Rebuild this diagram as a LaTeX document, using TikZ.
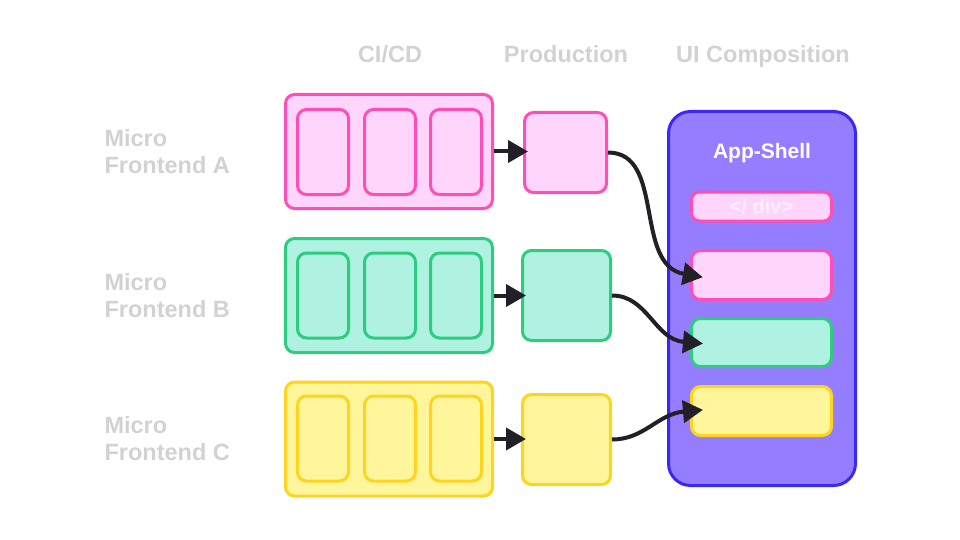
\documentclass[tikz,border=0pt]{standalone}
\usepackage{fontspec}
\setmainfont{Liberation Sans}
\usetikzlibrary{arrows.meta}
\definecolor{pinkfill}{HTML}{FFD5FB}
\definecolor{pinkline}{HTML}{FF4FB5}
\definecolor{greenfill}{HTML}{B0F2E2}
\definecolor{greenline}{HTML}{2ECC7F}
\definecolor{yellowfill}{HTML}{FFF59A}
\definecolor{yellowline}{HTML}{FFD41E}
\definecolor{shellfill}{HTML}{957DFF}
\definecolor{shellline}{HTML}{3C28F5}
\definecolor{lblgray}{HTML}{D2D2D2}
\definecolor{divtext}{HTML}{FFF0FD}
\definecolor{arrowc}{HTML}{231F26}

\begin{document}
\begin{tikzpicture}[x=1pt,y=-1pt,
  box/.style={draw, rounded corners=9pt, line width=3pt, inner sep=0pt},
  pinkbox/.style={box, draw=pinkline, fill=pinkfill},
  greenbox/.style={box, draw=greenline, fill=greenfill},
  yellowbox/.style={box, draw=yellowline, fill=yellowfill},
  outer/.style={minimum width=207pt, minimum height=114pt},
  inner/.style={minimum width=51pt, minimum height=85pt},
  slot/.style={minimum width=140pt, minimum height=49pt},
  lbl/.style={text=lblgray, font=\fontsize{23.5}{27}\selectfont\bfseries},
  conn/.style={draw=arrowc, line width=4pt, -{Triangle[length=20pt,width=22pt]}}]
\useasboundingbox (0,0) rectangle (960,540);

% column headers
\node[lbl, anchor=base] (hcicd) at (390,63) {CI/CD};
\node[lbl, anchor=base] (hprod) at (566,63) {Production};
\node[lbl, anchor=base] (hui) at (763,63) {UI Composition};

% row labels
\node[lbl, align=left, anchor=west] (mfA) at (101,152) {Micro\\Frontend A};
\node[lbl, align=left, anchor=west] (mfB) at (101,296) {Micro\\Frontend B};
\node[lbl, align=left, anchor=west] (mfC) at (101,439) {Micro\\Frontend C};

% CI/CD
\node[pinkbox, outer] (ciA) at (389,151.5) {};
\node[pinkbox, inner] (ciA1) at (323,152) {};
\node[pinkbox, inner] (ciA2) at (390,152) {};
\node[pinkbox, inner] (ciA3) at (456,152) {};
\node[greenbox, outer] (ciB) at (389,295.5) {};
\node[greenbox, inner] (ciB1) at (323,295.5) {};
\node[greenbox, inner] (ciB2) at (390,295.5) {};
\node[greenbox, inner] (ciB3) at (456,295.5) {};
\node[yellowbox, outer] (ciC) at (389,439) {};
\node[yellowbox, inner] (ciC1) at (323,438.5) {};
\node[yellowbox, inner] (ciC2) at (390,438.5) {};
\node[yellowbox, inner] (ciC3) at (456,438.5) {};

% production
\node[pinkbox, minimum width=82pt, minimum height=80pt] (prodA) at (565.5,152.5) {};
\node[greenbox, minimum width=88pt, minimum height=90pt] (prodB) at (566.5,295.5) {};
\node[yellowbox, minimum width=88pt, minimum height=90pt] (prodC) at (566.5,439.5) {};

% app shell
\node[box, draw=shellline, fill=shellfill, rounded corners=22pt, minimum width=187pt, minimum height=374pt] (shell) at (762,298.5) {};
\node[text=white, font=\fontsize{21}{25}\selectfont\bfseries] (title) at (762,153) {App-Shell};
\node[pinkbox, rounded corners=8pt, minimum width=140pt, minimum height=29pt, text=divtext, font=\fontsize{20}{24}\selectfont\bfseries] (div) at (761.5,206.5) {</ div>};
\node[pinkbox, slot] (slotA) at (761.5,275) {};
\node[greenbox, slot, minimum height=48pt] (slotB) at (761.5,342.5) {};
\node[yellowbox, slot] (slotC) at (761.5,411) {};

% connectors
\draw[conn, shorten >=-5pt] (ciA.east) -- (ciA.east -| prodA.west);
\draw[conn, shorten >=-5pt] (ciB.east) -- (ciB.east -| prodB.west);
\draw[conn, shorten >=-5pt] (ciC.east) -- (ciC.east -| prodC.west);
\draw[conn, shorten >=-13pt] (prodA.east) to[out=0,in=170] (slotA.west);
\draw[conn, shorten >=-13pt] (prodB.east) to[out=0,in=175] (slotB.west);
\draw[conn, shorten >=-13pt] (prodC.east) to[out=0,in=185] (slotC.west);
\end{tikzpicture}
\end{document}
